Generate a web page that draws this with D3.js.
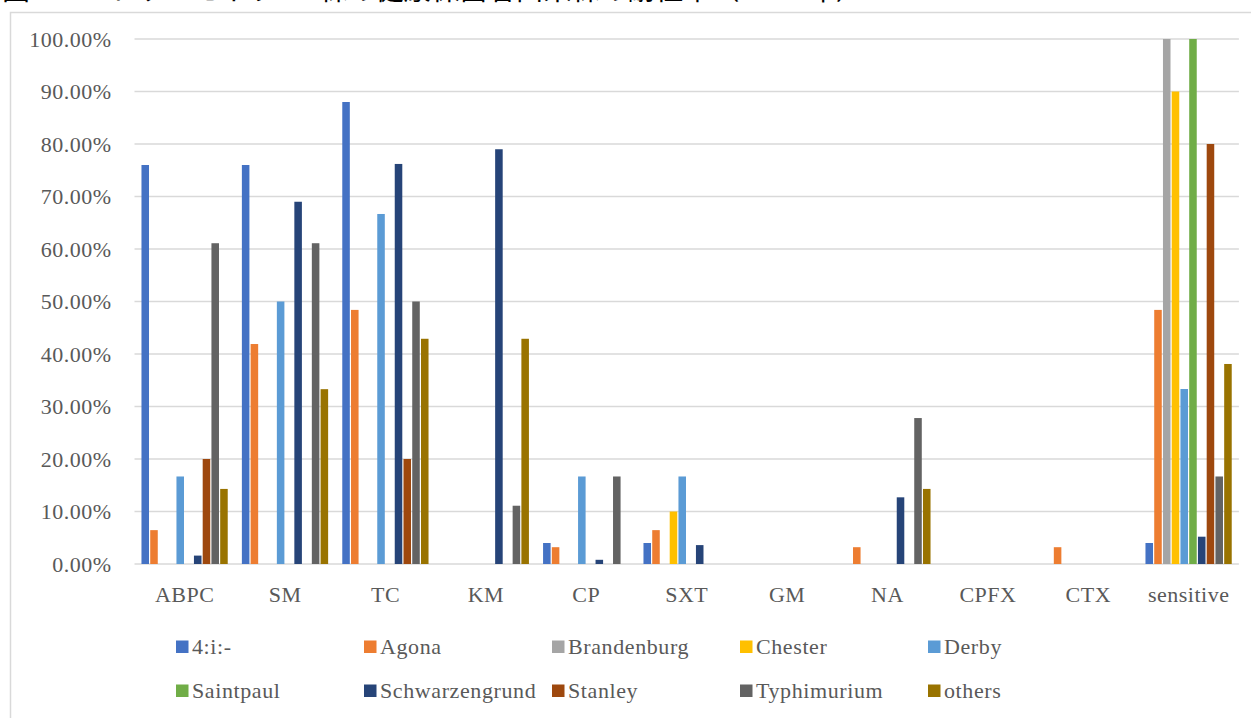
<!DOCTYPE html>
<html>
<head>
<meta charset="utf-8">
<script src="https://cdn.jsdelivr.net/npm/d3@7"></script>
<style>
  html, body { margin: 0; padding: 0; background: #fff; }
  svg { display: block; }
</style>
</head>
<body>
<svg id="chart" width="1251" height="718"></svg>
<script>
// Drug categories along the x axis
const categories = ["ABPC", "SM", "TC", "KM", "CP", "SXT", "GM", "NA", "CPFX", "CTX", "sensitive"];

// Serovars (one bar per serovar in each category)
const series = ["4:i:-", "Agona", "Brandenburg", "Chester", "Derby",
                "Saintpaul", "Schwarzengrund", "Stanley", "Typhimurium", "others"];

const seriesColors = ["#4472C4", "#ED7D31", "#A5A5A5", "#FFC000", "#5B9BD5",
                      "#70AD47", "#264478", "#9E480E", "#636363", "#997300"];

// Resistance rates (%) per serovar, ordered as in `categories`
const v4i          = [76, 76, 88, 0, 4, 4, 0, 0, 0, 0, 4];
const vAgona       = [6.45, 41.9, 48.4, 0, 3.2, 6.45, 0, 3.2, 0, 3.2, 48.4];
const vBrandenburg = [0, 0, 0, 0, 0, 0, 0, 0, 0, 0, 100];
const vChester     = [0, 0, 0, 0, 0, 10, 0, 0, 0, 0, 90];
const vDerby       = [16.67, 50, 66.67, 0, 16.67, 16.67, 0, 0, 0, 0, 33.33];
const vSaintpaul   = [0, 0, 0, 0, 0, 0, 0, 0, 0, 0, 100];
const vSchwarz     = [1.6, 69.0, 76.2, 79.0, 0.8, 3.6, 0, 12.7, 0, 0, 5.2];
const vStanley     = [20, 0, 20, 0, 0, 0, 0, 0, 0, 0, 80];
const vTyphi       = [61.1, 61.1, 50, 11.1, 16.67, 0, 0, 27.8, 0, 0, 16.67];
const vOthers      = [14.3, 33.3, 42.9, 42.9, 0, 0, 0, 14.3, 0, 0, 38.1];

const seriesValues = [v4i, vAgona, vBrandenburg, vChester, vDerby,
                      vSaintpaul, vSchwarz, vStanley, vTyphi, vOthers];

const yTicks = [0, 0.1, 0.2, 0.3, 0.4, 0.5, 0.6, 0.7, 0.8, 0.9, 1.0];

const titleText = "図 5．ヒトサルモネラ 92 株の健康保菌者由来株の耐性率（2019 年）";

const svg = d3.select("#chart");
const textColor = "#595959";
const gridColor = "#d9d9d9";
const serif = "'Liberation Serif', 'Times New Roman', serif";

// Title (sits above the chart frame, running off the top edge)
svg.append("text")
  .attr("x", 2).attr("y", -0.5)
  .attr("font-family", "'Noto Sans CJK JP', sans-serif")
  .attr("font-size", 28)
  .attr("fill", "#000")
  .text(titleText);

// Chart frame
svg.append("rect")
  .attr("x", 10.5).attr("y", 12.5)
  .attr("width", 1260).attr("height", 720)
  .attr("fill", "#fff")
  .attr("stroke", gridColor).attr("stroke-width", 1.5);

// Scales
const y = d3.scaleLinear().domain([0, 1]).range([564, 39]);
const x0 = d3.scaleBand().domain(categories).range([134.5, 1238.9]).padding(0);
const x1 = d3.scaleBand().domain(series).range([0, x0.bandwidth()])
  .paddingInner(0).paddingOuter(0.74);

// Gridlines
svg.append("g")
  .selectAll("line")
  .data(yTicks)
  .join("line")
  .attr("x1", x0.range()[0]).attr("x2", x0.range()[1])
  .attr("y1", d => y(d)).attr("y2", d => y(d))
  .attr("stroke", gridColor).attr("stroke-width", 1.6);

// Y axis labels
const yAxis = svg.append("g")
  .attr("transform", `translate(${x0.range()[0]},0)`)
  .call(d3.axisLeft(y).tickValues(yTicks).tickFormat(d3.format(".2%")).tickSize(0).tickPadding(23));
yAxis.select(".domain").remove();
yAxis.selectAll("text")
  .attr("font-family", serif)
  .attr("font-size", 22)
  .attr("letter-spacing", 0.5)
  .attr("fill", textColor);

// Bars
const barData = [];
categories.forEach((c, ci) => {
  series.forEach((s, si) => {
    barData.push({ cat: c, series: s, si: si, value: seriesValues[si][ci] / 100 });
  });
});

svg.append("g")
  .selectAll("rect")
  .data(barData.filter(d => d.value > 0))
  .join("rect")
  .attr("x", d => x0(d.cat) + x1(d.series) + 0.5)
  .attr("width", x1.bandwidth() - 1.2)
  .attr("y", d => y(d.value))
  .attr("height", d => y(0) - y(d.value))
  .attr("fill", d => seriesColors[d.si]);

// X axis labels
const xAxis = svg.append("g")
  .attr("transform", `translate(0,${y(0)})`)
  .call(d3.axisBottom(x0).tickSize(0).tickPadding(22));
xAxis.select(".domain").remove();
xAxis.selectAll("text")
  .attr("font-family", serif)
  .attr("font-size", 22)
  .attr("letter-spacing", 0.5)
  .attr("fill", textColor);

// Legend: two rows of five
const legendCols = [176, 364, 552, 740, 928];
const legendRows = [647, 691];
const legend = svg.append("g")
  .selectAll("g")
  .data(series)
  .join("g")
  .attr("transform", (d, i) => `translate(${legendCols[i % 5]},${legendRows[Math.floor(i / 5)]})`);

legend.append("rect")
  .attr("x", 0).attr("y", -6.5)
  .attr("width", 12.5).attr("height", 12.5)
  .attr("fill", (d, i) => seriesColors[i]);

legend.append("text")
  .attr("x", 16).attr("y", 7)
  .attr("font-family", serif)
  .attr("font-size", 22)
  .attr("letter-spacing", 0.6)
  .attr("fill", textColor)
  .text(d => d);
</script>
</body>
</html>
